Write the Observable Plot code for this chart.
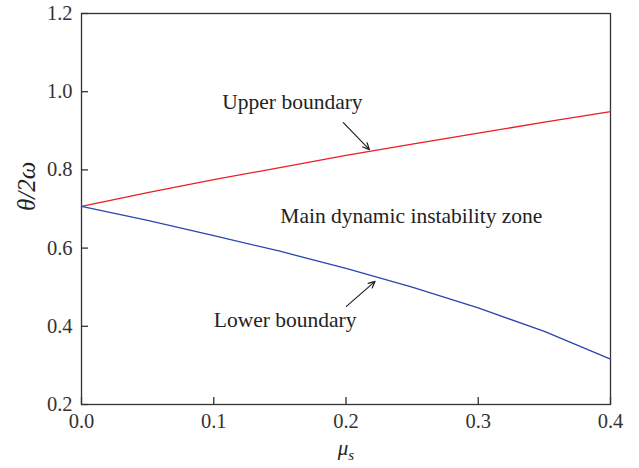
<!DOCTYPE html>
<html>
<head>
<meta charset="utf-8">
<script src="https://cdn.jsdelivr.net/npm/d3@7"></script>
<script src="https://cdn.jsdelivr.net/npm/@observablehq/plot@0.6"></script>
<style>
  html, body { margin: 0; padding: 0; background: #fff; }
  #chart svg { display: block; }
</style>
</head>
<body>
<div id="chart"></div>
<script>
// Data
const mu = [0, 0.05, 0.10, 0.15, 0.20, 0.25, 0.30, 0.35, 0.40];
const upper = [0.707, 0.742, 0.775, 0.806, 0.837, 0.866, 0.894, 0.922, 0.949];
const lower = [0.707, 0.671, 0.632, 0.592, 0.548, 0.500, 0.447, 0.387, 0.316];
const xTicks = [0, 0.1, 0.2, 0.3, 0.4];
const yTicks = [0.2, 0.4, 0.6, 0.8, 1.0, 1.2];
const labels = [
  {x: 0.1595, y: 0.974, text: "Upper boundary"},
  {x: 0.2494, y: 0.681, text: "Main dynamic instability zone"},
  {x: 0.154, y: 0.415, text: "Lower boundary"}
];
const arrows = [
  {x1: 0.198, y1: 0.921, x2: 0.2177, y2: 0.852},
  {x1: 0.2003, y1: 0.451, x2: 0.222, y2: 0.515}
];

const upperData = mu.map((m, i) => ({mu: m, v: upper[i]}));
const lowerData = mu.map((m, i) => ({mu: m, v: lower[i]}));

const font = "'Liberation Serif', 'DejaVu Serif', serif";

const chart = Plot.plot({
  width: 639,
  height: 468,
  marginLeft: 81,
  marginRight: 29,
  marginTop: 13,
  marginBottom: 64,
  style: {fontFamily: font, fontSize: "20px", color: "#333", background: "#fff"},
  x: {domain: [0, 0.4]},
  y: {domain: [0.2, 1.2]},
  marks: [
    Plot.frame({stroke: "#333", strokeWidth: 1.3}),
    Plot.axisX({ticks: xTicks, tickSize: 0, tickPadding: 9, tickFormat: d3.format(".1f"), label: null, fontSize: 20.5}),
    Plot.axisY({ticks: yTicks, tickSize: 0, tickPadding: 9, tickFormat: d3.format(".1f"), label: null, fontSize: 20.5}),
    // inward tick marks
    Plot.tickX(xTicks, {x: d => d, insetTop: 384, stroke: "#333", strokeWidth: 1.3}),
    Plot.tickY(yTicks, {y: d => d, insetRight: 522, stroke: "#333", strokeWidth: 1.3}),
    Plot.line(upperData, {x: "mu", y: "v", stroke: "#ee1c25", strokeWidth: 1.3}),
    Plot.line(lowerData, {x: "mu", y: "v", stroke: "#2a45ad", strokeWidth: 1.3}),
    Plot.arrow(arrows, {x1: "x1", y1: "y1", x2: "x2", y2: "y2", stroke: "#222", strokeWidth: 1.2, headLength: 9, headAngle: 50}),
    Plot.text(labels, {x: "x", y: "y", text: "text", fontSize: 21.5, fill: "#222"}),
    Plot.text(["θ/2ω"], {frameAnchor: "left", rotate: -90, dx: -55, dy: 2, fontSize: 25, fontStyle: "italic", fill: "#222"}),
    Plot.text(["μs"], {frameAnchor: "bottom", dy: 50, dx: 0, fontSize: 21, fontStyle: "italic", fill: "#222"})
  ]
});
document.getElementById("chart").appendChild(chart);

// Render the subscript s in the x label
d3.select(chart).selectAll("text").filter(function() { return this.textContent === "μs"; }).each(function() {
  const t = d3.select(this);
  t.text(null);
  t.append("tspan").text("μ");
  t.append("tspan").attr("font-size", 15).attr("dy", 5).text("s");
});
</script>
</body>
</html>
